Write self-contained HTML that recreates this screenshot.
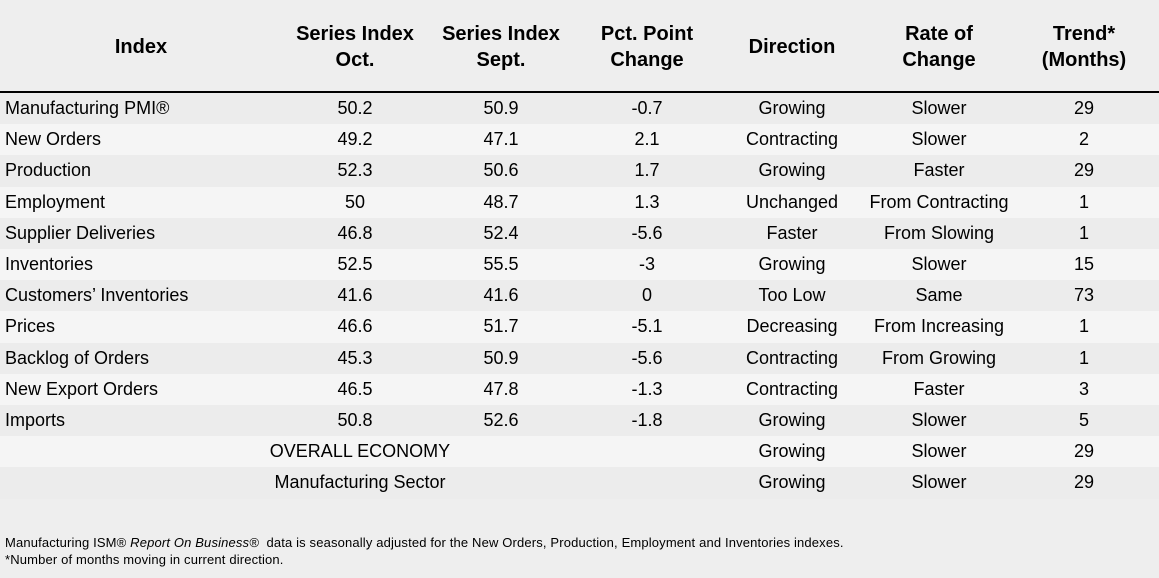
<!DOCTYPE html>
<html><head><style>
body{margin:0;width:1159px;height:578px;background:#eeeeee;font-family:"Liberation Sans",Arial,sans-serif;color:#000;position:relative;overflow:hidden}
.hd{position:absolute;top:0;left:0;width:1159px;height:91px;background:#eeeeee;border-bottom:2px solid #000}
.h{position:absolute;font-weight:bold;font-size:20px;line-height:26px;text-align:center;width:170px;top:21px}
.row{position:absolute;left:0;width:1159px;height:31.2px;font-size:18px;line-height:31px}
.d{background:#ececec}.l{background:#f5f5f5}
.c{position:absolute;text-align:center;width:180px;top:0;white-space:nowrap}
.n{position:absolute;left:5px;top:0}
.f{position:absolute;left:5px;font-size:13px;letter-spacing:0.15px;white-space:nowrap}
</style></head><body>
<div class="hd">
<div class="h" style="left:56px;top:34px">Index</div>
<div class="h" style="left:270px">Series Index<br>Oct.</div>
<div class="h" style="left:416px">Series Index<br>Sept.</div>
<div class="h" style="left:562px">Pct. Point<br>Change</div>
<div class="h" style="left:707px;top:34px">Direction</div>
<div class="h" style="left:854px">Rate of<br>Change</div>
<div class="h" style="left:999px">Trend*<br>(Months)</div>
</div>
<div class="row d" style="top:93px"><span class="n">Manufacturing PMI®</span><span class="c" style="left:265px">50.2</span><span class="c" style="left:411px">50.9</span><span class="c" style="left:557px">-0.7</span><span class="c" style="left:702px">Growing</span><span class="c" style="left:849px">Slower</span><span class="c" style="left:994px">29</span></div>
<div class="row l" style="top:124.2px"><span class="n">New Orders</span><span class="c" style="left:265px">49.2</span><span class="c" style="left:411px">47.1</span><span class="c" style="left:557px">2.1</span><span class="c" style="left:702px">Contracting</span><span class="c" style="left:849px">Slower</span><span class="c" style="left:994px">2</span></div>
<div class="row d" style="top:155.4px"><span class="n">Production</span><span class="c" style="left:265px">52.3</span><span class="c" style="left:411px">50.6</span><span class="c" style="left:557px">1.7</span><span class="c" style="left:702px">Growing</span><span class="c" style="left:849px">Faster</span><span class="c" style="left:994px">29</span></div>
<div class="row l" style="top:186.6px"><span class="n">Employment</span><span class="c" style="left:265px">50</span><span class="c" style="left:411px">48.7</span><span class="c" style="left:557px">1.3</span><span class="c" style="left:702px">Unchanged</span><span class="c" style="left:849px">From Contracting</span><span class="c" style="left:994px">1</span></div>
<div class="row d" style="top:217.8px"><span class="n">Supplier Deliveries</span><span class="c" style="left:265px">46.8</span><span class="c" style="left:411px">52.4</span><span class="c" style="left:557px">-5.6</span><span class="c" style="left:702px">Faster</span><span class="c" style="left:849px">From Slowing</span><span class="c" style="left:994px">1</span></div>
<div class="row l" style="top:249px"><span class="n">Inventories</span><span class="c" style="left:265px">52.5</span><span class="c" style="left:411px">55.5</span><span class="c" style="left:557px">-3</span><span class="c" style="left:702px">Growing</span><span class="c" style="left:849px">Slower</span><span class="c" style="left:994px">15</span></div>
<div class="row d" style="top:280.2px"><span class="n">Customers’ Inventories</span><span class="c" style="left:265px">41.6</span><span class="c" style="left:411px">41.6</span><span class="c" style="left:557px">0</span><span class="c" style="left:702px">Too Low</span><span class="c" style="left:849px">Same</span><span class="c" style="left:994px">73</span></div>
<div class="row l" style="top:311.4px"><span class="n">Prices</span><span class="c" style="left:265px">46.6</span><span class="c" style="left:411px">51.7</span><span class="c" style="left:557px">-5.1</span><span class="c" style="left:702px">Decreasing</span><span class="c" style="left:849px">From Increasing</span><span class="c" style="left:994px">1</span></div>
<div class="row d" style="top:342.6px"><span class="n">Backlog of Orders</span><span class="c" style="left:265px">45.3</span><span class="c" style="left:411px">50.9</span><span class="c" style="left:557px">-5.6</span><span class="c" style="left:702px">Contracting</span><span class="c" style="left:849px">From Growing</span><span class="c" style="left:994px">1</span></div>
<div class="row l" style="top:373.8px"><span class="n">New Export Orders</span><span class="c" style="left:265px">46.5</span><span class="c" style="left:411px">47.8</span><span class="c" style="left:557px">-1.3</span><span class="c" style="left:702px">Contracting</span><span class="c" style="left:849px">Faster</span><span class="c" style="left:994px">3</span></div>
<div class="row d" style="top:405px"><span class="n">Imports</span><span class="c" style="left:265px">50.8</span><span class="c" style="left:411px">52.6</span><span class="c" style="left:557px">-1.8</span><span class="c" style="left:702px">Growing</span><span class="c" style="left:849px">Slower</span><span class="c" style="left:994px">5</span></div>
<div class="row l" style="top:436.2px"><span class="c" style="left:260px;width:200px">OVERALL ECONOMY</span><span class="c" style="left:702px">Growing</span><span class="c" style="left:849px">Slower</span><span class="c" style="left:994px">29</span></div>
<div class="row d" style="top:467.4px"><span class="c" style="left:260px;width:200px">Manufacturing Sector</span><span class="c" style="left:702px">Growing</span><span class="c" style="left:849px">Slower</span><span class="c" style="left:994px">29</span></div>
<div class="f" style="top:535px">Manufacturing ISM® <i>Report On Business®</i>&nbsp; data is seasonally adjusted for the New Orders, Production, Employment and Inventories indexes.</div>
<div class="f" style="top:552px">*Number of months moving in current direction.</div>
</body></html>
